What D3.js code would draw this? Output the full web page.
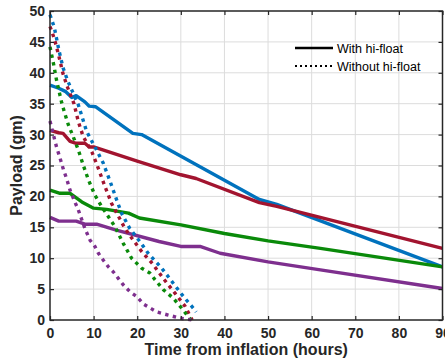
<!DOCTYPE html>
<html>
<head>
<meta charset="utf-8">
<script src="https://cdn.jsdelivr.net/npm/d3@7"></script>
<style>
  body { margin: 0; background: #fff; }
  text { font-family: "Liberation Sans", Arial, sans-serif; }
</style>
</head>
<body>
<div id="vis"></div>
<script>
// Frame
const FRAME_WIDTH = 445;
const FRAME_HEIGHT = 362;
const MARGINS = { left: 50, right: 2.5, top: 11, bottom: 42 };

const VIS_WIDTH = FRAME_WIDTH - MARGINS.left - MARGINS.right;
const VIS_HEIGHT = FRAME_HEIGHT - MARGINS.top - MARGINS.bottom;

// Tick values
const X_TICKS = [0, 10, 20, 30, 40, 50, 60, 70, 80, 90];
const Y_TICKS = [0, 5, 10, 15, 20, 25, 30, 35, 40, 45, 50];

// Series colours (blue, red, green, purple)
const COLORS = ["#0072BD", "#A2142F", "#0A8A0A", "#7E2F8E"];

// With hi-float (solid), [hours, payload]
const blue_solid = [[0,38],[2,37.5],[3.5,37],[5,36],[6,36.3],[8,35.3],[9,34.6],[10.5,34.5],[19,30.2],[21,30],[48,19.5],[52,18.7],[90,8.6]];
const red_solid = [[0,30.7],[2,30.3],[3,30.2],[4.6,28.9],[6,28.6],[8,28.6],[9,28],[10,28],[20,25.7],[30,23.5],[33.5,22.9],[48,19],[52,18.4],[90,11.6]];
const green_solid = [[0,21],[2.3,20.5],[4.6,20.5],[7.3,19.1],[10,18.1],[13,17.9],[18,17.3],[20.5,16.5],[30,15.4],[40,14],[50,12.8],[62,11.6],[90,8.6]];
const purple_solid = [[0,16.6],[2,16],[6,16],[8,15.5],[10.7,15.5],[15,14.6],[25,12.7],[30,11.9],[34.4,11.9],[39,10.8],[50,9.4],[62,8.1],[90,5.1]];

// Without hi-float (dotted)
const blue_dotted = [[0,49.4],[1,47.3],[2,43.8],[3,40.8],[4,38.8],[5,37.2],[6.5,34.8],[8.4,30.5],[10.3,28],[12.2,25.4],[13.8,22.4],[15.3,19.4],[16.4,17.3],[18.3,14.8],[20.6,12.7],[22.5,10.8],[25.6,8.4],[28.3,5.9],[30.6,3.8],[33,1.8],[33.5,1.3]];
const red_dotted = [[0,47.5],[1,45.5],[2,42.8],[3,39.8],[4,37.7],[5.5,35],[6.5,32.1],[7.6,29.7],[9.6,27.2],[11.1,24.5],[12.6,21.6],[14.1,18.9],[15.3,17.3],[17.2,14.8],[19.1,12.9],[21,11.1],[23.5,9.1],[26,6.7],[28.7,4.3],[31,2.2],[32.6,0]];
const green_dotted = [[0,44.2],[0.8,41.5],[1.5,38.8],[2.7,35.1],[3.4,33.4],[4.2,31.6],[5.3,29.7],[6.5,27.5],[7.6,25.1],[8.8,22.7],[10.3,20.2],[11.9,18.3],[13.4,16.7],[14.9,15.1],[16.8,12.4],[18.7,10],[21,8.4],[22.9,7.6],[24.1,6.5],[26,4.9],[28.3,3.5],[30.2,1.9],[32.3,0]];
const purple_dotted = [[0,32.2],[0.8,29.9],[1.5,28],[2.3,26.2],[3.1,24.3],[3.8,22.9],[4.6,21],[5.7,19.1],[6.5,17.8],[7.3,16.2],[8,14.8],[9.2,12.9],[10.3,11.9],[11.1,10.8],[12.2,9.7],[13.4,8.6],[14.5,7.8],[15.7,6.7],[16.8,5.7],[18.3,4.6],[19.9,3.8],[21.4,2.6],[23.3,1.8],[24.5,1.3],[27.1,0.8],[29.8,0.3],[32.5,0]];

const SOLID = [blue_solid, red_solid, green_solid, purple_solid];
const DOTTED = [blue_dotted, red_dotted, green_dotted, purple_dotted];

const LEGEND_LABELS = ["With hi-float", "Without hi-float"];

const FRAME = d3.select("#vis")
    .append("svg")
    .attr("width", FRAME_WIDTH)
    .attr("height", FRAME_HEIGHT);

const X_SCALE = d3.scaleLinear().domain([0, 90]).range([0, VIS_WIDTH]);
const Y_SCALE = d3.scaleLinear().domain([0, 50]).range([VIS_HEIGHT, 0]);

const PLOT = FRAME.append("g")
    .attr("transform", "translate(" + MARGINS.left + "," + MARGINS.top + ")");

// grid
PLOT.append("g").selectAll("line")
    .data(X_TICKS.slice(1, -1))
    .enter().append("line")
    .attr("x1", d => X_SCALE(d)).attr("x2", d => X_SCALE(d))
    .attr("y1", 0).attr("y2", VIS_HEIGHT)
    .attr("stroke", "#dcdcdc").attr("stroke-width", 1);

PLOT.append("g").selectAll("line")
    .data(Y_TICKS.slice(1, -1))
    .enter().append("line")
    .attr("y1", d => Y_SCALE(d)).attr("y2", d => Y_SCALE(d))
    .attr("x1", 0).attr("x2", VIS_WIDTH)
    .attr("stroke", "#dcdcdc").attr("stroke-width", 1);

// lines
const line = d3.line()
    .x(d => X_SCALE(d[0]))
    .y(d => Y_SCALE(d[1]));

SOLID.forEach((s, i) => {
    PLOT.append("path")
        .attr("d", line(s))
        .attr("fill", "none")
        .attr("stroke", COLORS[i])
        .attr("stroke-width", 3.4)
        .attr("stroke-linejoin", "round");
});

DOTTED.forEach((s, i) => {
    PLOT.append("path")
        .attr("d", line(s))
        .attr("fill", "none")
        .attr("stroke", COLORS[i])
        .attr("stroke-width", 3.4)
        .attr("stroke-dasharray", "3.4,4.4");
});

// axes
function styleAxis(g) {
    g.select(".domain").remove();
    g.selectAll(".tick line").attr("stroke", "#262626").attr("stroke-width", 1.2);
    g.selectAll(".tick text")
        .attr("fill", "#262626")
        .attr("font-size", "14px")
        .attr("font-weight", "bold");
}

PLOT.append("g")
    .attr("transform", "translate(0," + VIS_HEIGHT + ")")
    .call(d3.axisBottom(X_SCALE).tickValues(X_TICKS).tickSize(-4).tickPadding(8))
    .call(styleAxis);

PLOT.append("g")
    .call(d3.axisTop(X_SCALE).tickValues(X_TICKS).tickSize(-4).tickFormat(""))
    .call(styleAxis);

PLOT.append("g")
    .call(d3.axisLeft(Y_SCALE).tickValues(Y_TICKS).tickSize(-4).tickPadding(5))
    .call(styleAxis);

PLOT.append("g")
    .attr("transform", "translate(" + VIS_WIDTH + ",0)")
    .call(d3.axisRight(Y_SCALE).tickValues(Y_TICKS).tickSize(-4).tickFormat(""))
    .call(styleAxis);

// box
PLOT.append("rect")
    .attr("x", 0).attr("y", 0)
    .attr("width", VIS_WIDTH).attr("height", VIS_HEIGHT)
    .attr("fill", "none")
    .attr("stroke", "#262626")
    .attr("stroke-width", 1.5);

// axis labels
FRAME.append("text")
    .attr("x", MARGINS.left + VIS_WIDTH / 2)
    .attr("y", 355)
    .attr("text-anchor", "middle")
    .attr("font-size", "16px")
    .attr("font-weight", "bold")
    .attr("fill", "#262626")
    .text("Time from inflation (hours)");

FRAME.append("text")
    .attr("transform", "translate(22," + (MARGINS.top + VIS_HEIGHT / 2) + ") rotate(-90)")
    .attr("text-anchor", "middle")
    .attr("font-size", "16px")
    .attr("font-weight", "bold")
    .attr("fill", "#262626")
    .text("Payload (gm)");

// legend
const LEGEND = FRAME.append("g");
LEGEND_LABELS.forEach((lab, i) => {
    const y = 48 + i * 18;
    LEGEND.append("line")
        .attr("x1", 295).attr("x2", 333)
        .attr("y1", y).attr("y2", y)
        .attr("stroke", "#000")
        .attr("stroke-width", i === 0 ? 2.5 : 2)
        .attr("stroke-dasharray", i === 0 ? null : "2,3");
    LEGEND.append("text")
        .attr("x", 337)
        .attr("y", y + 4.5)
        .attr("font-size", "12.5px")
        .attr("fill", "#000")
        .text(lab);
});
</script>
</body>
</html>
